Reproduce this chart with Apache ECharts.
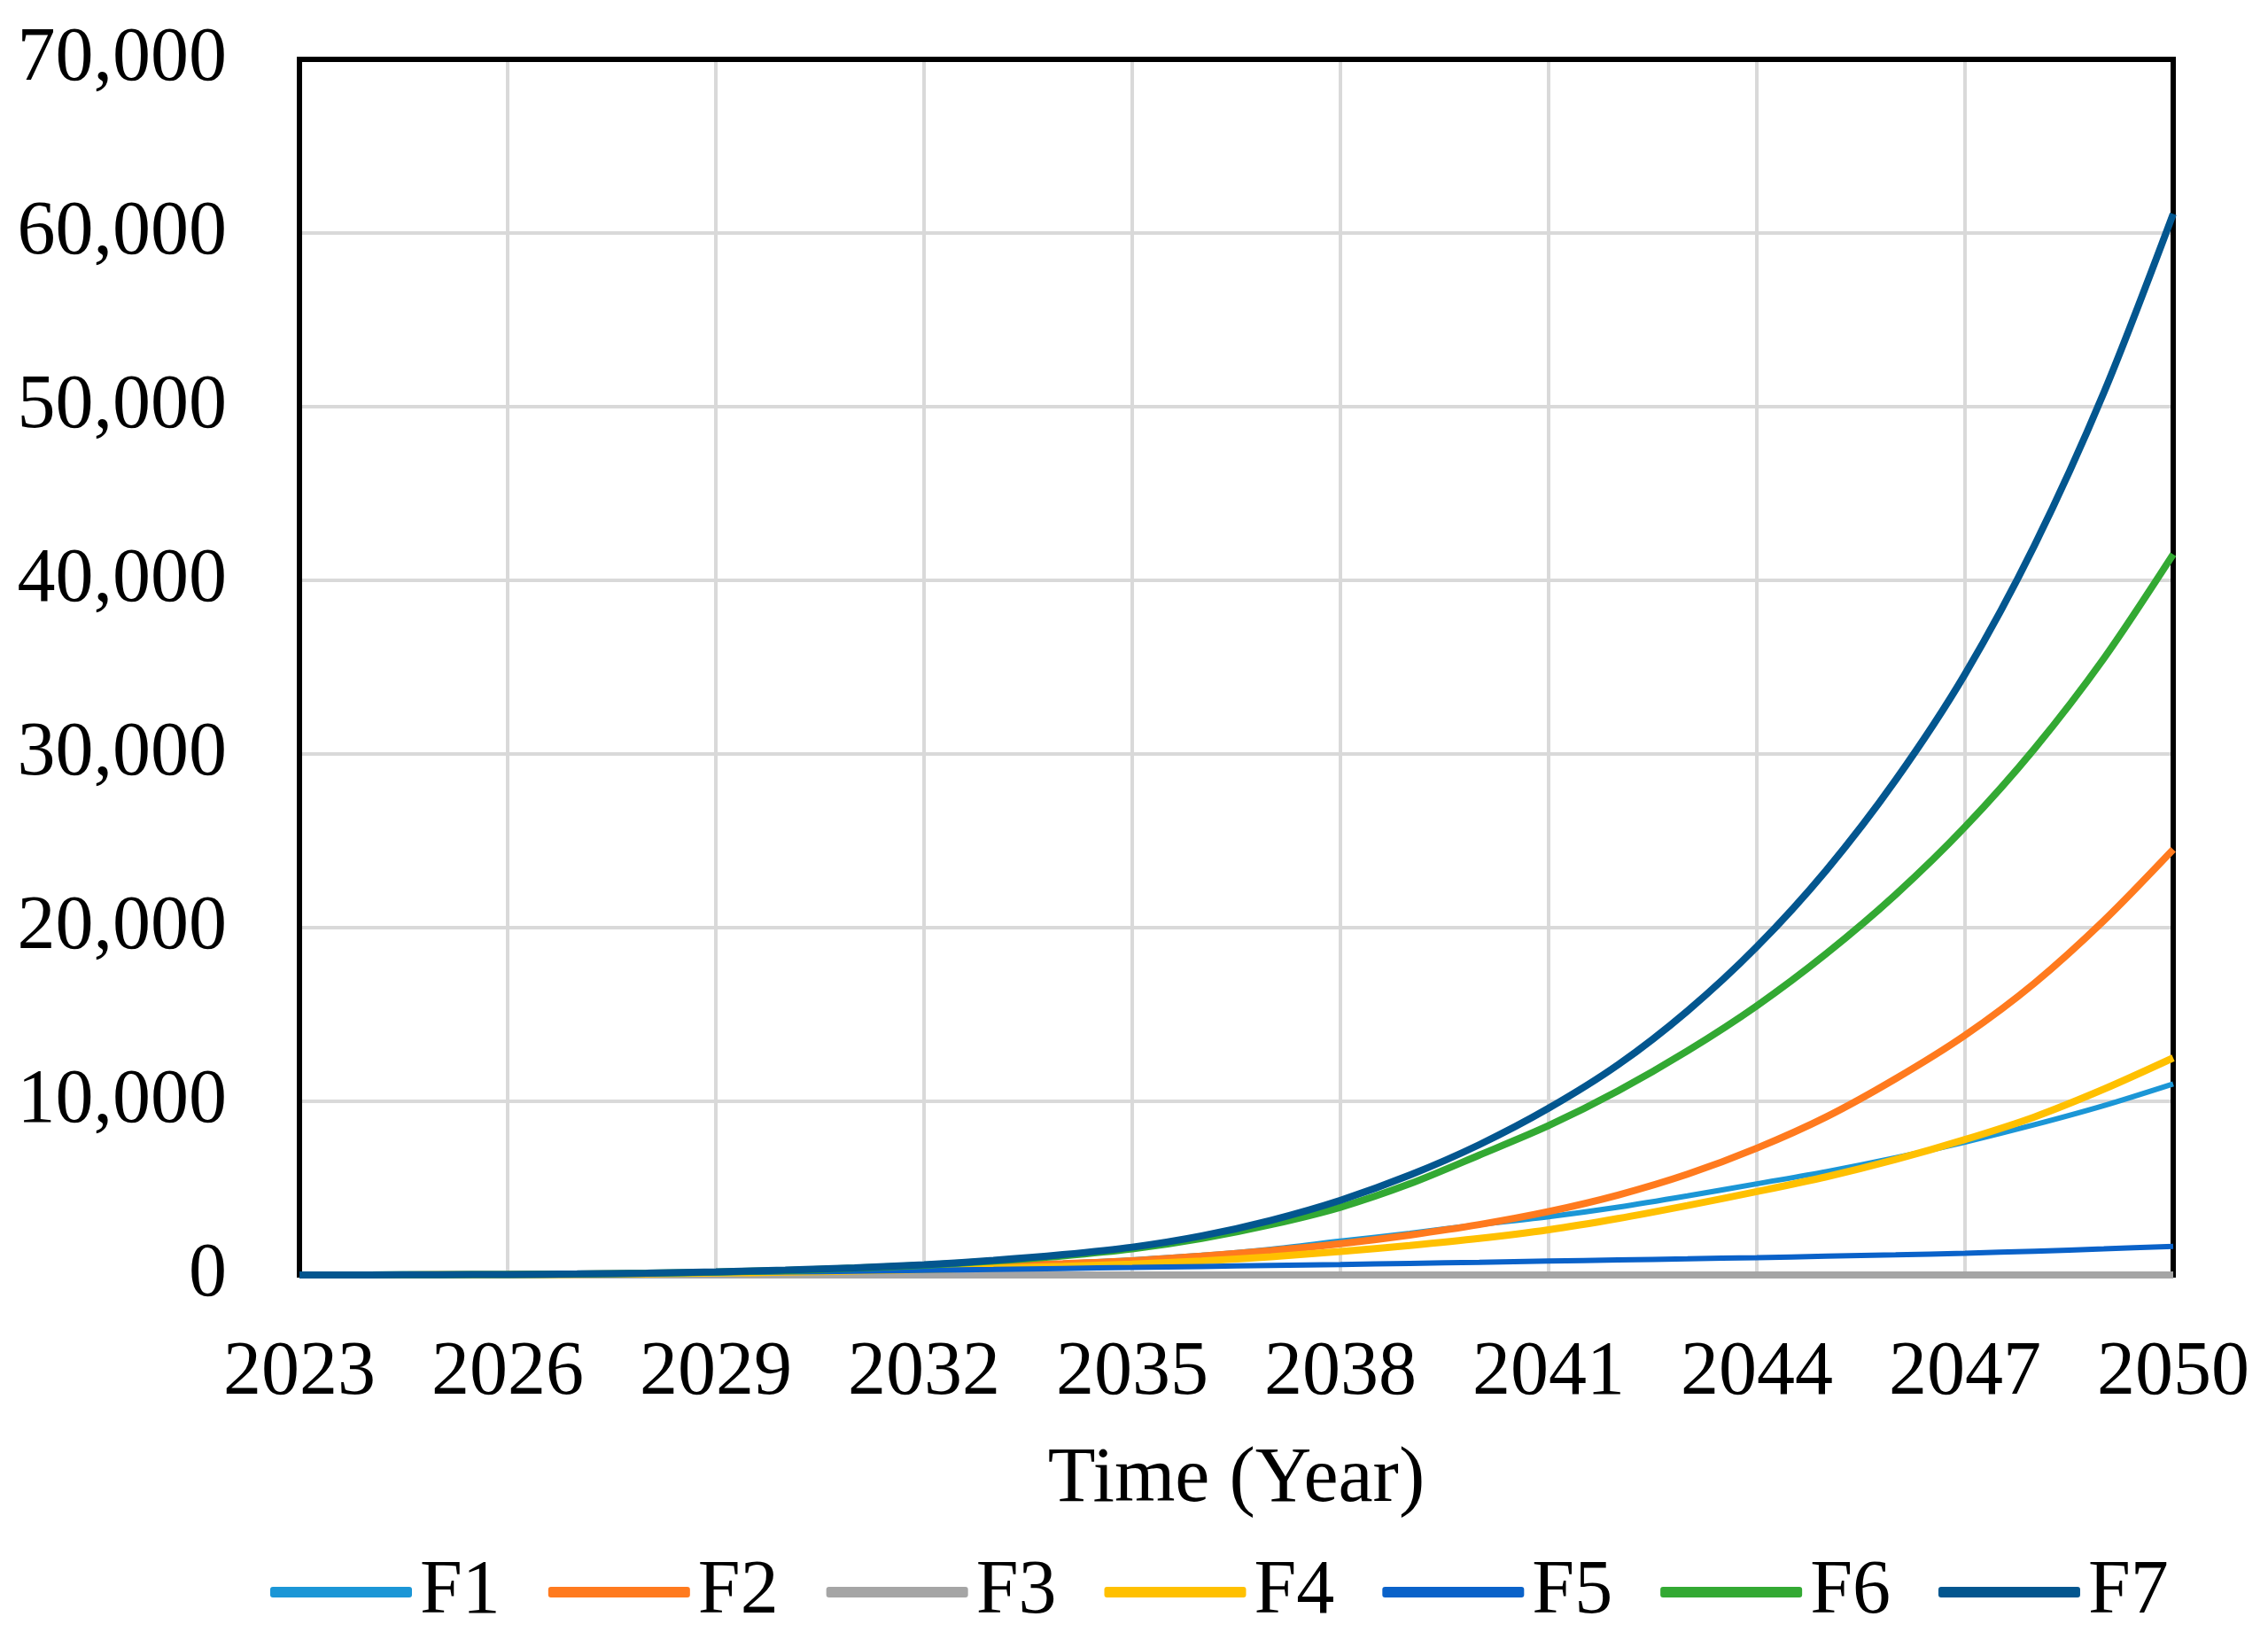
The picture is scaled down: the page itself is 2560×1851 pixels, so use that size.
<!DOCTYPE html>
<html>
<head>
<meta charset="utf-8">
<script src="https://cdn.jsdelivr.net/npm/echarts@6/dist/echarts.min.js"></script>
<style>
html,body{margin:0;padding:0;background:#fff;}
#chart{width:2560px;height:1851px;}
</style>
</head>
<body>
<div id="chart"></div>
<script>
const years = ['2023','2024','2025','2026','2027','2028','2029','2030','2031','2032','2033','2034','2035','2036','2037','2038','2039','2040','2041','2042','2043','2044','2045','2046','2047','2048','2049','2050'];
const seriesNames = ['F1','F2','F3','F4','F5','F6','F7'];
const F1 = [0,3,10,22,45,80,130,200,290,400,520,680,870,1130,1480,1950,2400,2900,3350,3900,4550,5250,5950,6750,7650,8650,9750,11000];
const F2 = [0,3,10,22,45,80,130,200,290,400,520,650,820,1080,1400,1800,2300,2900,3650,4600,5800,7300,9100,11300,13800,16800,20400,24500];
const F3 = [0,0,0,0,0,0,0,0,0,0,0,0,0,0,0,0,0,0,0,0,0,0,0,0,0,0,0,0];
const F4 = [0,3,10,20,40,70,110,160,230,310,400,500,620,810,1050,1350,1700,2100,2600,3250,4000,4800,5650,6650,7800,9100,10700,12500];
const F5 = [0,10,20,40,60,95,130,175,220,270,320,375,430,490,545,600,665,730,800,865,930,1000,1080,1160,1250,1370,1500,1650];
const F6 = [0,5,15,30,55,100,170,260,390,560,800,1100,1500,2100,2900,3900,5250,6900,8600,10600,12900,15500,18500,21900,25800,30300,35500,41500];
const F7 = [0,5,15,30,60,105,180,280,410,590,840,1170,1600,2250,3150,4300,5750,7500,9600,12100,15200,18900,23300,28500,34600,42000,50800,61100];
const yTicks = [0,10000,20000,30000,40000,50000,60000,70000];

const seriesData = [F1,F2,F3,F4,F5,F6,F7];
const colors = ['#1B96D6','#FF7A1E','#A5A5A5','#FFC000','#0A62C9','#33A933','#03568F'];
const widths = [6,8,8,8,6,8,8];
const FONT = '"Liberation Serif", "Times New Roman", serif';

const G = {left:338, top:67, right:107, height:1372};
const W = 2560;

const chart = echarts.init(document.getElementById('chart'), null, {renderer:'canvas'});
chart.setOption({
  backgroundColor:'#fff',
  animation:false,
  color: colors,
  textStyle:{fontFamily:FONT, color:'#000'},
  grid:{left:G.left, right:G.right, top:G.top, height:G.height, show:false},
  legend:{
    data: seriesNames,
    left: 300, top: 1749,
    itemWidth:160, itemHeight:12, itemGap:54,
    icon:'roundRect',
    textStyle:{fontFamily:FONT, fontSize:86, color:'#000', padding:[0,0,0,4]}
  },
  xAxis:{
    type:'category', data: years, boundaryGap:false,
    axisLine:{show:false}, axisTick:{show:false},
    axisLabel:{interval:2, fontFamily:FONT, fontSize:86, color:'#000', margin:68},
    splitLine:{show:true, interval:2, lineStyle:{color:'#d9d9d9', width:4}},
    name:'Time (Year)', nameLocation:'middle', nameGap:188,
    nameTextStyle:{fontFamily:FONT, fontSize:88, color:'#000'}
  },
  yAxis:{
    type:'value', min:yTicks[0], max:yTicks[yTicks.length-1], interval:yTicks[1]-yTicks[0],
    axisLine:{show:false}, axisTick:{show:false},
    axisLabel:{fontFamily:FONT, fontSize:86, color:'#000', margin:82,
      formatter:v=>v.toLocaleString('en-US')},
    splitLine:{show:true, lineStyle:{color:'#d9d9d9', width:4}}
  },
  graphic:[{
    type:'polyline', z:1, silent:true,
    shape:{points:[[G.left, G.top+G.height+3],[G.left, G.top],[W-G.right, G.top],[W-G.right, G.top+G.height+3]]},
    style:{stroke:'#000', lineWidth:6, fill:null, lineJoin:'miter'}
  }],
  series: seriesNames.map((n,i)=>({
    name:n, type:'line', data:seriesData[i], smooth:0.3, showSymbol:false, z:2+i,
    lineStyle:{width:widths[i], color:colors[i]}, itemStyle:{color:colors[i]}
  }))
});
</script>
</body>
</html>
